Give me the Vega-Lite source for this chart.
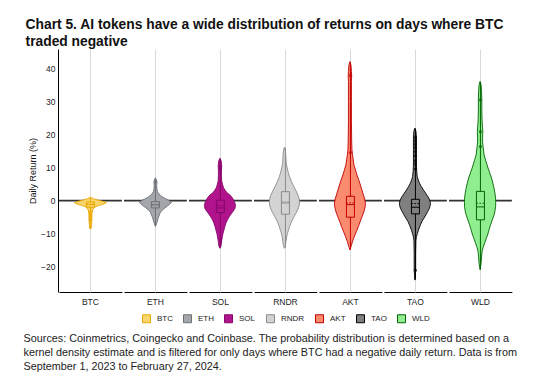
{
  "$schema": "https://vega.github.io/schema/vega-lite/v6.json",
  "padding": {"left": 23, "top": 18, "right": 5, "bottom": 5},
  "background": "white",
  "title": {
    "text": ["Sources: Coinmetrics, Coingecko and Coinbase. The probability distribution is determined based on a", "kernel density estimate and is filtered for only days where BTC had a negative daily return. Data is from", "September 1, 2023 to February 27, 2024."],
    "orient": "bottom", "anchor": "start", "font": "Liberation Sans", "fontSize": 10.8, "fontWeight": "normal", "lineHeight": 14, "color": "#222222", "offset": 8, "dx": -2
  },
  "config": {
    "view": {"stroke": null},
    "font": "Liberation Sans",
    "axis": {"labelFont": "Liberation Sans", "titleFont": "Liberation Sans"}
  },
  "vconcat": [
    {
      "title": {
        "text": ["Chart 5. AI tokens have a wide distribution of returns on days where BTC", "traded negative"],
        "anchor": "start", "font": "Liberation Sans", "fontSize": 13.8, "fontWeight": "bold", "color": "#111111", "lineHeight": 17, "offset": 0, "dx": -3
      },
      "data": {"values": [
        {"kind": "v", "token": "BTC", "v": 1.0, "w": 0},
        {"kind": "v", "token": "BTC", "v": 0.6, "w": 6},
        {"kind": "v", "token": "BTC", "v": 0.2, "w": 14},
        {"kind": "v", "token": "BTC", "v": -0.2, "w": 24},
        {"kind": "v", "token": "BTC", "v": -0.6, "w": 32},
        {"kind": "v", "token": "BTC", "v": -1.0, "w": 27},
        {"kind": "v", "token": "BTC", "v": -1.4, "w": 18},
        {"kind": "v", "token": "BTC", "v": -1.8, "w": 11},
        {"kind": "v", "token": "BTC", "v": -2.2, "w": 7},
        {"kind": "v", "token": "BTC", "v": -2.8, "w": 4.5},
        {"kind": "v", "token": "BTC", "v": -3.5, "w": 3.5},
        {"kind": "v", "token": "BTC", "v": -4.5, "w": 3},
        {"kind": "v", "token": "BTC", "v": -5.5, "w": 3},
        {"kind": "v", "token": "BTC", "v": -6.5, "w": 2.5},
        {"kind": "v", "token": "BTC", "v": -7.5, "w": 2},
        {"kind": "v", "token": "BTC", "v": -8.2, "w": 1},
        {"kind": "v", "token": "BTC", "v": -8.6, "w": 0},

        {"kind": "v", "token": "ETH", "v": 6.9, "w": 0},
        {"kind": "v", "token": "ETH", "v": 6.3, "w": 2},
        {"kind": "v", "token": "ETH", "v": 5.5, "w": 3},
        {"kind": "v", "token": "ETH", "v": 4.5, "w": 2.5},
        {"kind": "v", "token": "ETH", "v": 3.5, "w": 3},
        {"kind": "v", "token": "ETH", "v": 2.7, "w": 4},
        {"kind": "v", "token": "ETH", "v": 2.0, "w": 7},
        {"kind": "v", "token": "ETH", "v": 1.2, "w": 13},
        {"kind": "v", "token": "ETH", "v": 0.6, "w": 20},
        {"kind": "v", "token": "ETH", "v": 0.0, "w": 28},
        {"kind": "v", "token": "ETH", "v": -0.4, "w": 32},
        {"kind": "v", "token": "ETH", "v": -0.9, "w": 30},
        {"kind": "v", "token": "ETH", "v": -1.5, "w": 25},
        {"kind": "v", "token": "ETH", "v": -2.2, "w": 19},
        {"kind": "v", "token": "ETH", "v": -2.8, "w": 14},
        {"kind": "v", "token": "ETH", "v": -3.5, "w": 10},
        {"kind": "v", "token": "ETH", "v": -4.3, "w": 8},
        {"kind": "v", "token": "ETH", "v": -5.0, "w": 6},
        {"kind": "v", "token": "ETH", "v": -5.8, "w": 4.5},
        {"kind": "v", "token": "ETH", "v": -6.6, "w": 3},
        {"kind": "v", "token": "ETH", "v": -7.3, "w": 1.5},
        {"kind": "v", "token": "ETH", "v": -7.8, "w": 0},

        {"kind": "v", "token": "SOL", "v": 12.8, "w": 0},
        {"kind": "v", "token": "SOL", "v": 12.0, "w": 2.5},
        {"kind": "v", "token": "SOL", "v": 10.5, "w": 3.5},
        {"kind": "v", "token": "SOL", "v": 9.0, "w": 3},
        {"kind": "v", "token": "SOL", "v": 7.5, "w": 3},
        {"kind": "v", "token": "SOL", "v": 6.0, "w": 3.5},
        {"kind": "v", "token": "SOL", "v": 5.0, "w": 5},
        {"kind": "v", "token": "SOL", "v": 4.0, "w": 7},
        {"kind": "v", "token": "SOL", "v": 3.2, "w": 10},
        {"kind": "v", "token": "SOL", "v": 2.4, "w": 14},
        {"kind": "v", "token": "SOL", "v": 1.7, "w": 20},
        {"kind": "v", "token": "SOL", "v": 0.8, "w": 25},
        {"kind": "v", "token": "SOL", "v": -0.3, "w": 29},
        {"kind": "v", "token": "SOL", "v": -1.2, "w": 31},
        {"kind": "v", "token": "SOL", "v": -1.8, "w": 31},
        {"kind": "v", "token": "SOL", "v": -2.5, "w": 29.5},
        {"kind": "v", "token": "SOL", "v": -3.3, "w": 26},
        {"kind": "v", "token": "SOL", "v": -4.0, "w": 22.5},
        {"kind": "v", "token": "SOL", "v": -4.8, "w": 19},
        {"kind": "v", "token": "SOL", "v": -5.8, "w": 15},
        {"kind": "v", "token": "SOL", "v": -6.8, "w": 12},
        {"kind": "v", "token": "SOL", "v": -8.0, "w": 9.5},
        {"kind": "v", "token": "SOL", "v": -8.9, "w": 8},
        {"kind": "v", "token": "SOL", "v": -10.0, "w": 6},
        {"kind": "v", "token": "SOL", "v": -10.9, "w": 5},
        {"kind": "v", "token": "SOL", "v": -12.0, "w": 3.5},
        {"kind": "v", "token": "SOL", "v": -12.9, "w": 3},
        {"kind": "v", "token": "SOL", "v": -13.8, "w": 2},
        {"kind": "v", "token": "SOL", "v": -14.4, "w": 0},

        {"kind": "v", "token": "RNDR", "v": 16.1, "w": 0},
        {"kind": "v", "token": "RNDR", "v": 15.0, "w": 2},
        {"kind": "v", "token": "RNDR", "v": 13.0, "w": 3},
        {"kind": "v", "token": "RNDR", "v": 11.3, "w": 3.5},
        {"kind": "v", "token": "RNDR", "v": 9.5, "w": 6},
        {"kind": "v", "token": "RNDR", "v": 8.3, "w": 8},
        {"kind": "v", "token": "RNDR", "v": 7.3, "w": 10},
        {"kind": "v", "token": "RNDR", "v": 5.8, "w": 14},
        {"kind": "v", "token": "RNDR", "v": 4.2, "w": 19},
        {"kind": "v", "token": "RNDR", "v": 3.0, "w": 23},
        {"kind": "v", "token": "RNDR", "v": 1.7, "w": 27},
        {"kind": "v", "token": "RNDR", "v": 0.6, "w": 29.5},
        {"kind": "v", "token": "RNDR", "v": -0.3, "w": 30},
        {"kind": "v", "token": "RNDR", "v": -1.0, "w": 30},
        {"kind": "v", "token": "RNDR", "v": -1.8, "w": 29},
        {"kind": "v", "token": "RNDR", "v": -2.8, "w": 26.5},
        {"kind": "v", "token": "RNDR", "v": -3.8, "w": 23},
        {"kind": "v", "token": "RNDR", "v": -4.8, "w": 19.5},
        {"kind": "v", "token": "RNDR", "v": -5.8, "w": 16},
        {"kind": "v", "token": "RNDR", "v": -6.8, "w": 13},
        {"kind": "v", "token": "RNDR", "v": -7.9, "w": 10},
        {"kind": "v", "token": "RNDR", "v": -9.0, "w": 8},
        {"kind": "v", "token": "RNDR", "v": -9.9, "w": 6},
        {"kind": "v", "token": "RNDR", "v": -11.0, "w": 4.5},
        {"kind": "v", "token": "RNDR", "v": -12.4, "w": 3},
        {"kind": "v", "token": "RNDR", "v": -13.6, "w": 2},
        {"kind": "v", "token": "RNDR", "v": -14.4, "w": 0},

        {"kind": "v", "token": "AKT", "v": 42.0, "w": 0},
        {"kind": "v", "token": "AKT", "v": 41.0, "w": 2},
        {"kind": "v", "token": "AKT", "v": 39.0, "w": 3},
        {"kind": "v", "token": "AKT", "v": 37.8, "w": 3.5},
        {"kind": "v", "token": "AKT", "v": 36.0, "w": 3},
        {"kind": "v", "token": "AKT", "v": 30.0, "w": 3},
        {"kind": "v", "token": "AKT", "v": 24.0, "w": 3},
        {"kind": "v", "token": "AKT", "v": 18.0, "w": 3.5},
        {"kind": "v", "token": "AKT", "v": 15.5, "w": 4},
        {"kind": "v", "token": "AKT", "v": 14.0, "w": 5},
        {"kind": "v", "token": "AKT", "v": 12.5, "w": 6.5},
        {"kind": "v", "token": "AKT", "v": 10.8, "w": 8},
        {"kind": "v", "token": "AKT", "v": 9.3, "w": 11},
        {"kind": "v", "token": "AKT", "v": 7.8, "w": 14},
        {"kind": "v", "token": "AKT", "v": 6.3, "w": 17.5},
        {"kind": "v", "token": "AKT", "v": 4.7, "w": 21},
        {"kind": "v", "token": "AKT", "v": 3.2, "w": 24},
        {"kind": "v", "token": "AKT", "v": 1.7, "w": 27},
        {"kind": "v", "token": "AKT", "v": 0.5, "w": 29.5},
        {"kind": "v", "token": "AKT", "v": -0.8, "w": 31},
        {"kind": "v", "token": "AKT", "v": -1.8, "w": 30.5},
        {"kind": "v", "token": "AKT", "v": -2.8, "w": 29},
        {"kind": "v", "token": "AKT", "v": -4.0, "w": 26.5},
        {"kind": "v", "token": "AKT", "v": -5.3, "w": 23},
        {"kind": "v", "token": "AKT", "v": -6.5, "w": 20},
        {"kind": "v", "token": "AKT", "v": -7.8, "w": 17},
        {"kind": "v", "token": "AKT", "v": -9.1, "w": 13.5},
        {"kind": "v", "token": "AKT", "v": -10.4, "w": 10},
        {"kind": "v", "token": "AKT", "v": -11.4, "w": 7.5},
        {"kind": "v", "token": "AKT", "v": -12.4, "w": 5},
        {"kind": "v", "token": "AKT", "v": -13.5, "w": 3},
        {"kind": "v", "token": "AKT", "v": -14.2, "w": 1.5},
        {"kind": "v", "token": "AKT", "v": -14.9, "w": 0},

        {"kind": "v", "token": "TAO", "v": 21.9, "w": 0},
        {"kind": "v", "token": "TAO", "v": 21.0, "w": 2},
        {"kind": "v", "token": "TAO", "v": 19.0, "w": 3},
        {"kind": "v", "token": "TAO", "v": 15.0, "w": 3},
        {"kind": "v", "token": "TAO", "v": 11.0, "w": 3},
        {"kind": "v", "token": "TAO", "v": 9.0, "w": 3.5},
        {"kind": "v", "token": "TAO", "v": 7.3, "w": 4.5},
        {"kind": "v", "token": "TAO", "v": 6.3, "w": 6.5},
        {"kind": "v", "token": "TAO", "v": 5.3, "w": 9},
        {"kind": "v", "token": "TAO", "v": 4.2, "w": 13},
        {"kind": "v", "token": "TAO", "v": 3.2, "w": 17},
        {"kind": "v", "token": "TAO", "v": 2.2, "w": 21.5},
        {"kind": "v", "token": "TAO", "v": 1.2, "w": 26},
        {"kind": "v", "token": "TAO", "v": 0.2, "w": 29.5},
        {"kind": "v", "token": "TAO", "v": -0.8, "w": 31},
        {"kind": "v", "token": "TAO", "v": -1.5, "w": 30.5},
        {"kind": "v", "token": "TAO", "v": -2.3, "w": 29},
        {"kind": "v", "token": "TAO", "v": -3.3, "w": 25.5},
        {"kind": "v", "token": "TAO", "v": -4.3, "w": 22},
        {"kind": "v", "token": "TAO", "v": -5.3, "w": 18},
        {"kind": "v", "token": "TAO", "v": -6.3, "w": 14},
        {"kind": "v", "token": "TAO", "v": -7.5, "w": 10.5},
        {"kind": "v", "token": "TAO", "v": -8.9, "w": 7},
        {"kind": "v", "token": "TAO", "v": -9.9, "w": 5},
        {"kind": "v", "token": "TAO", "v": -10.9, "w": 3},
        {"kind": "v", "token": "TAO", "v": -12.0, "w": 2},
        {"kind": "v", "token": "TAO", "v": -16.0, "w": 1.5},
        {"kind": "v", "token": "TAO", "v": -21.0, "w": 1.5},
        {"kind": "v", "token": "TAO", "v": -24.0, "w": 0},

        {"kind": "v", "token": "WLD", "v": 36.0, "w": 0},
        {"kind": "v", "token": "WLD", "v": 35.0, "w": 2},
        {"kind": "v", "token": "WLD", "v": 33.0, "w": 3},
        {"kind": "v", "token": "WLD", "v": 30.4, "w": 3.5},
        {"kind": "v", "token": "WLD", "v": 27.0, "w": 3.5},
        {"kind": "v", "token": "WLD", "v": 24.0, "w": 4},
        {"kind": "v", "token": "WLD", "v": 22.0, "w": 5},
        {"kind": "v", "token": "WLD", "v": 20.8, "w": 5.5},
        {"kind": "v", "token": "WLD", "v": 19.0, "w": 5},
        {"kind": "v", "token": "WLD", "v": 17.8, "w": 5},
        {"kind": "v", "token": "WLD", "v": 16.3, "w": 6},
        {"kind": "v", "token": "WLD", "v": 15.0, "w": 7},
        {"kind": "v", "token": "WLD", "v": 13.8, "w": 8},
        {"kind": "v", "token": "WLD", "v": 12.0, "w": 11.5},
        {"kind": "v", "token": "WLD", "v": 9.8, "w": 16},
        {"kind": "v", "token": "WLD", "v": 8.3, "w": 19.5},
        {"kind": "v", "token": "WLD", "v": 6.8, "w": 23},
        {"kind": "v", "token": "WLD", "v": 5.3, "w": 25.5},
        {"kind": "v", "token": "WLD", "v": 3.7, "w": 28},
        {"kind": "v", "token": "WLD", "v": 2.2, "w": 29.8},
        {"kind": "v", "token": "WLD", "v": 0.7, "w": 31},
        {"kind": "v", "token": "WLD", "v": -0.5, "w": 31.3},
        {"kind": "v", "token": "WLD", "v": -1.8, "w": 31},
        {"kind": "v", "token": "WLD", "v": -3.0, "w": 30},
        {"kind": "v", "token": "WLD", "v": -4.3, "w": 28},
        {"kind": "v", "token": "WLD", "v": -5.8, "w": 24.5},
        {"kind": "v", "token": "WLD", "v": -7.3, "w": 21},
        {"kind": "v", "token": "WLD", "v": -8.8, "w": 18},
        {"kind": "v", "token": "WLD", "v": -10.4, "w": 15},
        {"kind": "v", "token": "WLD", "v": -11.6, "w": 12},
        {"kind": "v", "token": "WLD", "v": -12.9, "w": 9},
        {"kind": "v", "token": "WLD", "v": -14.2, "w": 6},
        {"kind": "v", "token": "WLD", "v": -15.4, "w": 4},
        {"kind": "v", "token": "WLD", "v": -17.0, "w": 3},
        {"kind": "v", "token": "WLD", "v": -19.0, "w": 2},
        {"kind": "v", "token": "WLD", "v": -20.9, "w": 0},

        {"kind": "box", "token": "BTC", "q1": -2.0, "q3": -0.4, "med": -1.2, "mean": -1.0, "lo": -8.2, "hi": 0.9},
        {"kind": "box", "token": "ETH", "q1": -2.2, "q3": -0.3, "med": -1.3, "mean": -1.1, "lo": -7.5, "hi": 6.7},
        {"kind": "box", "token": "SOL", "q1": -3.6, "q3": 0.1, "med": -2.2, "mean": -1.5, "lo": -14.2, "hi": 12.6},
        {"kind": "box", "token": "RNDR", "q1": -4.1, "q3": 2.7, "med": -0.7, "mean": -0.4, "lo": -14.2, "hi": 15.9},
        {"kind": "box", "token": "AKT", "q1": -5.0, "q3": 1.3, "med": -1.2, "mean": -0.7, "lo": -14.7, "hi": 41.8},
        {"kind": "box", "token": "TAO", "q1": -4.0, "q3": 0.4, "med": -2.0, "mean": -0.9, "lo": -23.8, "hi": 21.7},
        {"kind": "box", "token": "WLD", "q1": -5.8, "q3": 2.8, "med": -1.9, "mean": -0.8, "lo": -20.7, "hi": 35.8},

        {"kind": "pt", "token": "BTC", "v": -3.5},
        {"kind": "pt", "token": "BTC", "v": -4.3},
        {"kind": "pt", "token": "BTC", "v": -5.0},
        {"kind": "pt", "token": "BTC", "v": -5.8},
        {"kind": "pt", "token": "BTC", "v": -8.0},
        {"kind": "pt", "token": "ETH", "v": 5.7},
        {"kind": "pt", "token": "SOL", "v": 10.3},
        {"kind": "pt", "token": "SOL", "v": 9.5},
        {"kind": "pt", "token": "SOL", "v": -11.9},
        {"kind": "pt", "token": "AKT", "v": 37.8},
        {"kind": "pt", "token": "AKT", "v": 14.5},
        {"kind": "pt", "token": "TAO", "v": 19.0},
        {"kind": "pt", "token": "TAO", "v": 18.0},
        {"kind": "pt", "token": "TAO", "v": 17.0},
        {"kind": "pt", "token": "TAO", "v": 16.0},
        {"kind": "pt", "token": "TAO", "v": 14.8},
        {"kind": "pt", "token": "TAO", "v": 13.5},
        {"kind": "pt", "token": "TAO", "v": 12.0},
        {"kind": "pt", "token": "TAO", "v": 11.0},
        {"kind": "pt", "token": "TAO", "v": 9.5},
        {"kind": "pt", "token": "TAO", "v": -21.1},
        {"kind": "pt", "token": "WLD", "v": 30.4},
        {"kind": "pt", "token": "WLD", "v": 20.8},
        {"kind": "pt", "token": "WLD", "v": 16.3}
      ]},
      "facet": {
        "column": {
          "field": "token", "type": "nominal",
          "sort": ["BTC", "ETH", "SOL", "RNDR", "AKT", "TAO", "WLD"],
          "header": {"title": null, "labelOrient": "bottom", "labelPadding": 6, "labelFont": "Liberation Sans", "labelFontSize": 8.5, "labelColor": "#222222"}
        }
      },
      "spacing": 0,
      "spec": {
        "width": 62.857,
        "height": 243,
        "layer": [
          {
            "transform": [{"filter": "datum.kind == 'box'"}],
            "mark": {"type": "rule", "color": "#333333", "strokeWidth": 1.6},
            "encoding": {"y": {"datum": 0, "type": "quantitative"}}
          },
          {
            "transform": [{"filter": "datum.kind == 'v'"}],
            "mark": {"type": "area", "orient": "horizontal", "strokeWidth": 0.9},
            "encoding": {
              "y": {"field": "v", "type": "quantitative", "scale": {"domain": [-27.6, 45.8], "nice": false, "zero": false},
                    "axis": {"title": "Daily Return (%)", "values": [-20, -10, 0, 10, 20, 30, 40], "ticks": false, "labelPadding": 3, "labelFontSize": 8.5, "labelColor": "#222222", "titleFontSize": 9, "titleFontWeight": "normal", "titleColor": "#111111", "titlePadding": 3, "domainColor": "#000000", "domainWidth": 1, "gridColor": "#ebebeb", "gridWidth": 1}},
              "x": {"field": "w", "type": "quantitative", "stack": "center", "impute": null,
                    "scale": {"domain": [-15.43, 47.43], "nice": false, "zero": false},
                    "axis": {"title": null, "values": [16], "labels": false, "ticks": false, "grid": true, "gridColor": "#d9d9d9", "gridWidth": 1, "domainColor": "#000000", "domainWidth": 1}},
              "fill": {"field": "token", "type": "nominal",
                       "scale": {"domain": ["BTC", "ETH", "SOL", "RNDR", "AKT", "TAO", "WLD"], "range": ["#f9d56e", "#a3a7ab", "#b0138b", "#d3d3d3", "#fa8b6e", "#808080", "#90ee90"]},
                       "legend": {"title": null, "orient": "none", "legendX": 83, "legendY": 265, "direction": "horizontal", "symbolType": "square", "symbolSize": 64, "symbolStrokeWidth": 1, "labelFont": "Liberation Sans", "labelFontSize": 8, "labelColor": "#222222", "labelOffset": 6, "columnPadding": 8}},
              "stroke": {"field": "token", "type": "nominal",
                       "scale": {"domain": ["BTC", "ETH", "SOL", "RNDR", "AKT", "TAO", "WLD"], "range": ["#eaa800", "#6c7075", "#85086a", "#8a8a8a", "#c00000", "#000000", "#006400"]},
                       "legend": {"title": null, "orient": "none", "legendX": 83, "legendY": 265, "direction": "horizontal", "symbolType": "square", "symbolSize": 64, "symbolStrokeWidth": 1, "labelFont": "Liberation Sans", "labelFontSize": 8, "labelColor": "#222222", "labelOffset": 6, "columnPadding": 8}}
            }
          },
          {
            "transform": [{"filter": "datum.kind == 'box'"}],
            "mark": {"type": "rule", "strokeWidth": 1},
            "encoding": {
              "x": {"datum": 16, "type": "quantitative"},
              "y": {"field": "lo", "type": "quantitative"},
              "y2": {"field": "hi"},
              "stroke": {"field": "token", "type": "nominal"}
            }
          },
          {
            "transform": [{"filter": "datum.kind == 'box'"}],
            "mark": {"type": "rect", "strokeWidth": 1},
            "encoding": {
              "x": {"datum": 12, "type": "quantitative"},
              "x2": {"datum": 20},
              "y": {"field": "q1", "type": "quantitative"},
              "y2": {"field": "q3"},
              "fill": {"field": "token", "type": "nominal"},
              "stroke": {"field": "token", "type": "nominal"}
            }
          },
          {
            "transform": [{"filter": "datum.kind == 'box'"}],
            "mark": {"type": "rule", "strokeWidth": 1},
            "encoding": {
              "x": {"datum": 12, "type": "quantitative"},
              "x2": {"datum": 20},
              "y": {"field": "med", "type": "quantitative"},
              "stroke": {"field": "token", "type": "nominal"}
            }
          },
          {
            "transform": [{"filter": "datum.kind == 'box'"}],
            "mark": {"type": "rule", "strokeWidth": 1, "strokeDash": [1.5, 1.5]},
            "encoding": {
              "x": {"datum": 12, "type": "quantitative"},
              "x2": {"datum": 20},
              "y": {"field": "mean", "type": "quantitative"},
              "stroke": {"field": "token", "type": "nominal"}
            }
          },
          {
            "transform": [{"filter": "datum.kind == 'pt'"}],
            "mark": {"type": "point", "filled": false, "size": 3, "strokeWidth": 1.5},
            "encoding": {
              "x": {"datum": 16, "type": "quantitative"},
              "y": {"field": "v", "type": "quantitative"},
              "stroke": {"field": "token", "type": "nominal"}
            }
          }
        ]
      }
    }
  ]
}
